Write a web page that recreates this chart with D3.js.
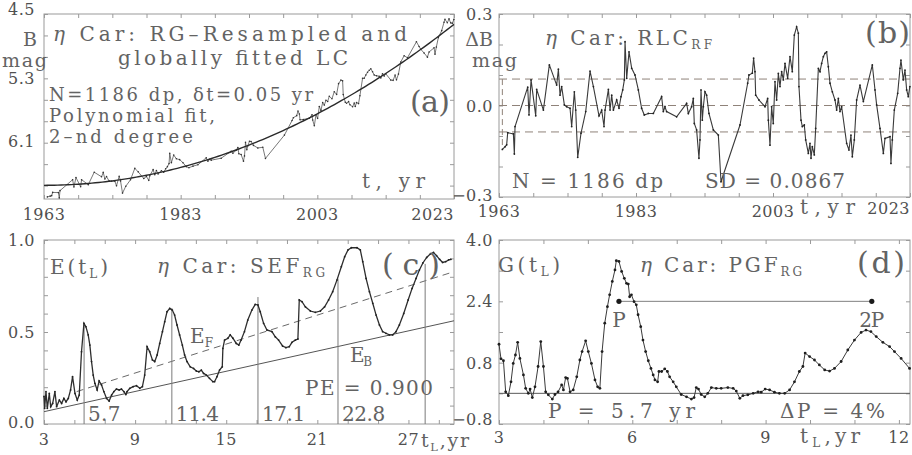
<!DOCTYPE html>
<html>
<head>
<meta charset="utf-8">
<script src="https://cdn.jsdelivr.net/npm/d3@7"></script>
<style>
  body { margin: 0; background: #fff; }
  svg text { font-family: "DejaVu Serif", "Liberation Serif", serif; }
</style>
</head>
<body>
<svg width="912" height="455"></svg>
<script>
// eta Car light curve: residuals (b), fitted LC (a), SEF (c), PGF (d)

// (b) residual light curve RLC_RF, [year, dB mag]
const rlc = [
  [1963.49,-0.144],[1963.9,-0.135],[1964.12,-0.129],[1964.27,-0.089],[1965.10,-0.093],[1965.24,-0.159],
  [1965.34,-0.069],[1967.19,0.060],[1967.38,-0.031],[1967.68,0.084],[1968.36,-0.034],[1968.50,0.053],
  [1969.48,-0.015],[1970.35,0.133],[1971.42,0.067],[1971.67,0.119],[1971.91,0.034],[1972.15,0.062],
  [1972.54,0.002],[1972.88,-0.004],[1973.37,-0.009],[1973.61,-0.069],[1974.00,0.045],[1974.20,-0.015],
  [1974.49,-0.170],[1974.97,-0.091],[1975.66,-0.020],[1976.29,0.113],[1976.78,0.062],[1977.60,-0.034],
  [1977.99,-0.015],[1978.33,-0.069],[1978.48,-0.015],[1978.97,0.053],[1979.21,-0.015],[1979.45,0.034],
  [1979.70,-0.015],[1980.18,0.018],[1980.52,-0.009],[1980.81,0.029],[1981.06,0.051],[1981.30,0.084],
  [1981.40,0.209],[1981.64,0.089],[1981.98,0.176],[1982.37,0.122],[1982.85,0.100],[1983.34,0.051],
  [1983.82,-0.009],[1984.21,-0.031],[1984.80,-0.026],[1985.53,-0.026],[1986.74,0.029],[1986.99,-0.020],
  [1987.23,-0.004],[1987.47,-0.020],[1988.93,-0.037],[1990.39,0.007],[1990.64,-0.026],[1991.12,-0.004],
  [1991.37,0.023],[1991.51,-0.059],[1991.85,-0.080],[1992.19,-0.173],[1992.34,-0.113],[1992.49,0.051],
  [1992.68,-0.048],[1992.83,-0.004],[1993.07,0.045],[1993.31,0.034],[1993.65,-0.026],[1994.29,-0.080],
  [1995.02,-0.097],[1995.41,-0.250],[1998.18,-0.064],[1999.30,0.073],[1999.49,0.100],[1999.98,0.106],
  [2000.17,0.155],[2000.37,0.111],[2000.47,0.034],[2000.95,0.018],[2001.83,-0.004],[2002.22,0.023],
  [2002.32,-0.048],[2002.56,-0.130],[2002.80,-0.004],[2003.04,-0.059],[2003.29,0.078],[2003.53,0.018],
  [2003.78,0.105],[2004.02,0.062],[2004.26,0.111],[2004.51,0.084],[2004.75,0.138],[2005.14,0.089],
  [2005.48,0.160],[2005.82,0.111],[2006.11,0.231],[2006.45,0.258],[2006.70,0.237],[2006.79,0.062],
  [2007.09,-0.048],[2007.28,-0.069],[2007.57,-0.064],[2007.77,-0.113],[2008.16,-0.157],[2008.40,-0.124],
  [2008.55,-0.173],[2008.74,-0.135],[2009.03,-0.162],[2009.23,-0.075],[2009.62,0.122],[2009.86,0.111],
  [2010.10,0.138],[2010.35,0.160],[2010.59,0.171],[2010.83,0.176],[2011.08,0.127],[2011.32,0.073],
  [2011.66,0.045],[2012.05,0.018],[2012.29,-0.015],[2012.54,0.023],[2012.78,-0.020],[2013.02,-0.004],
  [2013.75,-0.124],[2014.09,-0.146],[2014.38,-0.097],[2014.58,-0.168],[2014.87,-0.113],[2015.21,0.018],
  [2015.70,0.067],[2016.19,0.013],[2017.50,0.133],[2017.89,0.051],[2018.13,0.002],[2018.62,-0.075],
  [2019.11,-0.157],[2019.35,-0.108],[2020.08,-0.102],[2020.22,-0.190],[2020.42,-0.113],[2020.71,-0.015],
  [2021.20,0.040],[2021.54,0.122],[2021.68,0.149],[2022.02,0.084],[2022.27,0.116],[2022.51,0.051],
  [2022.75,0.029],[2022.98,0.062]
];
const sd = 0.0867;
const sdLevels = [-sd, 0, sd];

// (a) 2nd degree polynomial fit: B = c0 + c1*u + c2*u^2, u = t - 1963
const fitCoef = [6.63, 0, -0.000556];

// (c) SEF curve [tL, E]
const sef = [
  [3.0,0.150],[3.04,0.085],[3.13,0.176],[3.22,0.085],[3.35,0.166],[3.44,0.094],[3.57,0.112],[3.72,0.176],
  [3.83,0.094],[4.01,0.130],[4.16,0.112],[4.31,0.139],[4.45,0.121],[4.60,0.139],[4.75,0.185],[4.88,0.257],
  [5.04,0.166],[5.19,0.130],[5.32,0.157],[5.47,0.393],[5.63,0.547],[5.76,0.529],[5.91,0.484],[6.02,0.429],
  [6.13,0.339],[6.24,0.266],[6.35,0.221],[6.50,0.185],[6.63,0.234],[6.79,0.212],[6.94,0.176],[7.12,0.139],
  [7.29,0.125],[7.45,0.157],[7.60,0.176],[7.77,0.190],[7.95,0.185],[8.10,0.190],[8.26,0.176],[8.39,0.161],
  [8.47,0.176],[8.65,0.194],[8.87,0.203],[9.09,0.208],[9.31,0.194],[9.48,0.203],[9.63,0.266],[9.79,0.420],
  [9.96,0.393],[10.14,0.348],[10.29,0.339],[10.45,0.375],[10.62,0.438],[10.80,0.502],[10.95,0.556],
  [11.10,0.610],[11.28,0.628],[11.45,0.619],[11.60,0.592],[11.76,0.538],[11.93,0.484],[12.11,0.429],
  [12.26,0.375],[12.42,0.339],[12.63,0.311],[12.85,0.302],[13.03,0.288],[13.20,0.284],[13.36,0.293],
  [13.51,0.275],[13.69,0.266],[13.90,0.248],[14.12,0.230],[14.23,0.230],[14.39,0.257],[14.56,0.293],
  [14.74,0.311],[14.78,0.411],[14.89,0.456],[15.11,0.466],[15.26,0.484],[15.44,0.466],[15.66,0.438],
  [15.83,0.429],[15.98,0.456],[16.20,0.502],[16.42,0.565],[16.69,0.619],[16.91,0.650],[17.09,0.647],
  [17.24,0.610],[17.46,0.547],[17.68,0.511],[18.01,0.502],[18.23,0.474],[18.45,0.456],[18.71,0.424],
  [18.93,0.415],[19.15,0.420],[19.33,0.444],[19.55,0.456],[19.72,0.462],[19.81,0.674],[19.99,0.665],
  [20.21,0.637],[20.54,0.614],[20.87,0.607],[21.20,0.614],[21.48,0.637],[21.74,0.674],[22.01,0.719],
  [22.29,0.782],[22.58,0.855],[22.80,0.909],[23.02,0.946],[23.24,0.958],[23.61,0.958],[23.83,0.946],
  [23.99,0.882],[24.21,0.791],[24.43,0.719],[24.65,0.656],[24.87,0.592],[25.09,0.538],[25.30,0.502],
  [25.52,0.493],[25.74,0.484],[25.96,0.484],[26.18,0.502],[26.40,0.538],[26.69,0.601],[26.98,0.674],
  [27.24,0.737],[27.50,0.791],[27.72,0.837],[27.95,0.875],[28.20,0.905],[28.45,0.925],[28.65,0.932],
  [28.85,0.915],[29.05,0.895],[29.25,0.878],[29.45,0.882],[29.65,0.892],[29.80,0.895]
];
const lineEF = [[5.15, 0.176], [30, 0.828]];
const lineEB = [[3, 0.067], [30, 0.561]];
const periodT = [5.64, 11.42, 17.09, 22.36, 28.1];
const periodTop = [0.55, 0.63, 0.69, 0.79, 0.87];
const periodLabels = ['5.7', '11.4', '17.1', '22.8', ''];

// (d) PGF curve [tL, G]
const pgf = [
  [3.0,1.28],[3.045,0.90],[3.10,0.85],[3.15,0.04],[3.21,-0.06],[3.27,0.30],[3.32,0.78],[3.37,1.00],
  [3.42,1.33],[3.47,0.91],[3.55,0.48],[3.60,0.13],[3.66,0.00],[3.70,0.11],[3.75,-0.11],[3.81,0.17],
  [3.88,0.70],[3.94,1.35],[4.00,0.70],[4.05,0.04],[4.11,-0.04],[4.20,-0.15],[4.26,-0.03],[4.33,0.04],
  [4.41,0.22],[4.45,0.09],[4.50,0.41],[4.54,0.39],[4.60,0.04],[4.67,0.09],[4.75,0.43],[4.82,0.87],
  [4.87,1.09],[4.95,1.37],[5.01,1.09],[5.08,0.78],[5.16,0.35],[5.22,0.17],[5.27,0.13],[5.32,1.09],
  [5.38,1.83],[5.44,2.26],[5.49,2.57],[5.55,2.92],[5.61,3.22],[5.64,3.46],[5.70,3.44],[5.76,3.18],
  [5.82,3.00],[5.87,2.87],[5.91,2.85],[5.94,2.52],[5.98,2.57],[6.04,2.39],[6.09,2.31],[6.13,2.05],
  [6.19,1.74],[6.24,1.39],[6.30,1.09],[6.36,0.85],[6.42,0.65],[6.47,0.48],[6.51,0.35],[6.57,0.30],
  [6.60,0.57],[6.66,0.57],[6.73,0.64],[6.79,0.57],[6.84,0.43],[6.92,0.30],[6.99,0.17],[7.10,-0.03],
  [7.22,-0.09],[7.33,-0.15],[7.39,-0.11],[7.44,0.15],[7.49,0.11],[7.55,-0.03],[7.63,-0.09],[7.70,0.00],
  [7.78,0.15],[7.89,0.13],[8.00,0.13],[8.15,0.15],[8.27,0.13],[8.34,0.06],[8.42,-0.13],[8.49,-0.06],
  [8.60,-0.04],[8.72,0.00],[8.83,0.04],[8.90,0.03],[8.99,0.11],[9.09,0.09],[9.20,0.03],[9.31,0.00],
  [9.43,0.00],[9.54,0.09],[9.65,0.30],[9.76,0.57],[9.84,0.70],[9.89,1.05],[9.99,0.96],[10.10,0.87],
  [10.21,0.74],[10.33,0.61],[10.44,0.58],[10.55,0.65],[10.70,0.83],[10.85,1.13],[11.00,1.39],
  [11.15,1.59],[11.26,1.65],[11.37,1.61],[11.49,1.48],[11.64,1.33],[11.79,1.22],[11.90,1.09],
  [12.05,0.91],[12.24,0.65]
];
const pMarks = [[5.7, 2.4, 'P'], [11.39, 2.4, '2P']];

const svg = d3.select('svg');
const TXT = '#636363';
const FRAME = '#9a9a9a';

function panel (box, xDom, yDom, xTicks, yTicks) {
  const x = d3.scaleLinear().domain(xDom).range([box.x0, box.x1]);
  const y = d3.scaleLinear().domain(yDom).range([box.y1, box.y0]);
  const g = svg.append('g');
  const ax = [
    [d3.axisBottom(x).tickValues(xTicks), `translate(0,${box.y1})`],
    [d3.axisTop(x).tickValues(xTicks), `translate(0,${box.y0})`],
    [d3.axisLeft(y).tickValues(yTicks), `translate(${box.x0},0)`],
    [d3.axisRight(y).tickValues(yTicks), `translate(${box.x1},0)`]
  ];
  ax.forEach(([a, tr]) => {
    const s = g.append('g').attr('transform', tr).attr('color', FRAME)
      .call(a.tickSize(-4).tickFormat(''));
    s.select('.domain').remove();
  });
  g.append('rect')
    .attr('x', box.x0).attr('y', box.y0)
    .attr('width', box.x1 - box.x0).attr('height', box.y1 - box.y0)
    .attr('fill', 'none').attr('stroke', FRAME).attr('stroke-width', 1);
  return { x, y, g };
}

function label (parts, x, y, o = {}) {
  const t = svg.append('text')
    .attr('x', x).attr('y', y)
    .attr('font-size', o.size || 20)
    .attr('text-anchor', o.anchor || 'start')
    .attr('fill', o.fill || TXT);
  if (o.ls) t.attr('letter-spacing', o.ls);
  if (o.len) t.attr('textLength', o.len).attr('lengthAdjust', 'spacing');
  let low = false;
  [].concat(parts).forEach(p => {
    const [s, k] = Array.isArray(p) ? p : [p, ''];
    const ts = t.append('tspan').text(s);
    if (k === 'i') ts.attr('font-style', 'italic');
    if (k === 's') { ts.attr('font-size', '0.6em').attr('dy', 4); low = true; }
    else if (low) { ts.attr('dy', -4); low = false; }
  });
  return t;
}

function tickLabels (sc, vals, fmt, pos) {
  vals.forEach((v, i) => {
    const last = i === vals.length - 1;
    if (pos.axis === 'x') {
      const anchor = (last && pos.endAt) ? 'end' : 'middle';
      const xx = (last && pos.endAt) ? pos.endAt : sc(v);
      label(fmt(v), xx, (last && pos.lastY) || pos.y, { size: 16, ls: 0.5, anchor, fill: '#505050' });
    } else {
      let yy = sc(v) + 6;
      if (i === 0) yy = sc(v) + (pos.bottomOff ?? 4);
      if (last && pos.topY) yy = pos.topY;
      label(fmt(v), pos.x, yy, { size: 16, ls: 0.5, anchor: 'end', fill: '#505050' });
    }
  });
}

const f1 = d => d3.format('.1f')(d).replace('-', '−');
const yearTicks = d3.range(1963, 2024, 5);
const yearLabels = [1963, 1983, 2003, 2023];

// ---------- (a) fitted light curve ----------
const fit = t => fitCoef[0] + fitCoef[1] * (t - 1963) + fitCoef[2] * (t - 1963) ** 2;
const lc = rlc.map(([t, v]) => [t, fit(t) - v]);
const A = panel({ x0: 44, x1: 454, y0: 14, y1: 199 }, [1963, 2023], [6.8, 4.5],
  yearTicks, d3.range(4.5, 6.81, 0.8 / 3));

A.g.append('path').datum(lc)
  .attr('d', d3.line().x(d => A.x(d[0])).y(d => A.y(d[1])))
  .attr('fill', 'none').attr('stroke', '#555').attr('stroke-width', 0.8);
A.g.selectAll('circle').data(lc).join('circle')
  .attr('cx', d => A.x(d[0])).attr('cy', d => A.y(d[1])).attr('r', 0.8).attr('fill', '#333');
const fitPts = d3.range(1963, 2023.01, 0.5).map(t => [t, fit(t)]);
A.g.append('path').datum(fitPts)
  .attr('d', d3.line().x(d => A.x(d[0])).y(d => A.y(d[1])))
  .attr('fill', 'none').attr('stroke', '#2a2a2a').attr('stroke-width', 1.4);

tickLabels(A.x, yearLabels, String, { axis: 'x', y: 220, endAt: 454 });
tickLabels(A.y, [6.1, 5.3, 4.5], f1, { axis: 'y', x: 35, topY: 15 });
label('B', 37, 46, { anchor: 'end', size: 19 });
label('mag', 2, 67, { len: 45, size: 19 });
label([['η', 'i'], ' Car: RG–Resampled and'], 53, 41, { len: 354 });
label('globally fitted LC', 118, 65, { len: 230 });
label('N=1186 dp, δt=0.05 yr', 49, 101, { len: 264, size: 18 });
label('Polynomial fit,', 49, 122, { len: 166, size: 18 });
label('2–nd degree', 49, 143, { len: 144, size: 18 });
label('(a)', 410, 112, { size: 30, len: 40 });
label('t,  yr', 362, 188, { len: 63 });

// ---------- (b) residuals ----------
const B = panel({ x0: 499, x1: 910, y0: 14, y1: 197 }, [1963, 2023], [-0.3, 0.3],
  yearTicks, d3.range(-0.3, 0.301, 0.1));
sdLevels.forEach(l => {
  B.g.append('line')
    .attr('x1', B.x(1963)).attr('x2', B.x(2023))
    .attr('y1', B.y(l)).attr('y2', B.y(l))
    .attr('stroke', '#8f8279').attr('stroke-width', 1).attr('stroke-dasharray', '8,5');
});
B.g.append('line')
  .attr('x1', B.x(rlc[0][0])).attr('x2', B.x(rlc[0][0]))
  .attr('y1', B.y(sd)).attr('y2', B.y(rlc[0][1]))
  .attr('stroke', '#8f8279').attr('stroke-dasharray', '6,4');
B.g.append('path').datum(rlc)
  .attr('d', d3.line().x(d => B.x(d[0])).y(d => B.y(d[1])))
  .attr('fill', 'none').attr('stroke', '#3a3a3a').attr('stroke-width', 1.1);
B.g.selectAll('circle').data(rlc).join('circle')
  .attr('cx', d => B.x(d[0])).attr('cy', d => B.y(d[1])).attr('r', 0.9).attr('fill', '#222');

tickLabels(B.x, yearLabels, String, { axis: 'x', y: 217, endAt: 910, lastY: 214 });
tickLabels(B.y, [-0.3, 0.0, 0.3], f1, { axis: 'y', x: 493 });
label('ΔB', 493, 46, { anchor: 'end', size: 19 });
label('mag', 472, 67, { len: 45, size: 19 });
label([['η', 'i'], '  Car:  RLC', ['RF', 's']], 545, 45, { len: 167 });
label('(b)', 865, 43, { size: 30, len: 45 });
label('N  =  1186  dp', 512, 188, { len: 151 });
label('SD  =  0.0867', 705, 188, { len: 140 });
label('t,yr', 800, 214, { len: 55 });

// ---------- (c) SEF ----------
const C = panel({ x0: 44, x1: 454, y0: 240, y1: 424 }, [3, 30], [0, 1],
  d3.range(3, 30.01, 2), d3.range(0, 1.001, 0.1));
C.g.append('path').datum(lineEB)
  .attr('d', d3.line().x(d => C.x(d[0])).y(d => C.y(d[1])))
  .attr('stroke', '#555').attr('stroke-width', 1);
C.g.append('path').datum(lineEF)
  .attr('d', d3.line().x(d => C.x(d[0])).y(d => C.y(d[1])))
  .attr('stroke', '#6a6a6a').attr('stroke-width', 1).attr('stroke-dasharray', '7,5');
periodT.forEach((p, i) => {
  C.g.append('line')
    .attr('x1', C.x(p)).attr('x2', C.x(p))
    .attr('y1', C.y(0)).attr('y2', C.y(periodTop[i]))
    .attr('stroke', '#7a7a7a').attr('stroke-width', 1);
  if (periodLabels[i]) label(periodLabels[i], C.x(p) + 4, 421, { len: periodLabels[i].length * 10.8 });
});
C.g.append('path').datum(sef)
  .attr('d', d3.line().x(d => C.x(d[0])).y(d => C.y(d[1])))
  .attr('fill', 'none').attr('stroke', '#2e2e2e').attr('stroke-width', 1.3);
C.g.selectAll('circle').data(sef).join('circle')
  .attr('cx', d => C.x(d[0])).attr('cy', d => C.y(d[1])).attr('r', 0.9).attr('fill', '#222');

tickLabels(C.x, [3, 9, 15, 21, 27], String, { axis: 'x', y: 445 });
tickLabels(C.y, [0, 0.5, 1.0], f1, { axis: 'y', x: 35 });
label(['E(t', ['L', 's'], ')'], 50, 274, { len: 58 });
label([['η', 'i'], '  Car:  SEF', ['RG', 's']], 157, 273, { len: 168 });
label('(c)', 382, 275, { size: 30, len: 58 });
label(['E', ['F', 's']], 190, 343, { len: 23 });
label(['E', ['B', 's']], 350, 362, { len: 22 });
label('PE  =  0.900', 305, 395, { len: 128 });
label(['t', ['L', 's'], ',yr'], 421, 447, { len: 48, size: 19 });

// ---------- (d) PGF ----------
const D = panel({ x0: 499, x1: 910, y0: 240, y1: 424 }, [3, 12.25], [-0.8, 4.0],
  d3.range(3, 12.26, 1), d3.range(-0.8, 4.001, 0.8));
D.g.append('line')
  .attr('x1', D.x(3)).attr('x2', D.x(12.25)).attr('y1', D.y(0)).attr('y2', D.y(0))
  .attr('stroke', '#5a5a5a').attr('stroke-width', 1);
D.g.append('path').datum(pMarks)
  .attr('d', d3.line().x(d => D.x(d[0])).y(d => D.y(d[1])))
  .attr('stroke', '#808080').attr('stroke-width', 1);
D.g.append('path').datum(pgf)
  .attr('d', d3.line().x(d => D.x(d[0])).y(d => D.y(d[1])))
  .attr('fill', 'none').attr('stroke', '#3a3a3a').attr('stroke-width', 1);
D.g.selectAll('circle.pt').data(pgf).join('circle').attr('class', 'pt')
  .attr('cx', d => D.x(d[0])).attr('cy', d => D.y(d[1])).attr('r', 1.4).attr('fill', '#1e1e1e');
D.g.selectAll('circle.pm').data(pMarks).join('circle').attr('class', 'pm')
  .attr('cx', d => D.x(d[0])).attr('cy', d => D.y(d[1])).attr('r', 2.6).attr('fill', '#1a1a1a');
pMarks.forEach(m => label(m[2], D.x(m[0]), 327, { anchor: 'middle', len: m[2].length * 12.5 }));

tickLabels(D.x, [3, 6, 9, 12], String, { axis: 'x', y: 443 });
tickLabels(D.y, [-0.8, 0.8, 2.4, 4.0], f1, { axis: 'y', x: 493, bottomOff: 1 });
label(['G(t', ['L', 's'], ')'], 498, 272, { len: 62 });
label([['η', 'i'], '  Car:  PGF', ['RG', 's']], 640, 272, { len: 162 });
label('(d)', 857, 273, { size: 30, len: 48 });
label('P  =  5.7  yr', 548, 418, { len: 147 });
label('ΔP  =  4%', 780, 418, { len: 105 });
label(['t', ['L', 's'], ',yr'], 800, 443, { len: 60 });
</script>
</body>
</html>
